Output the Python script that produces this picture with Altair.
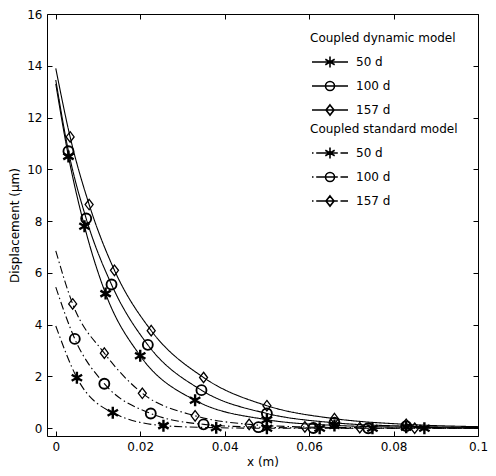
import altair as alt
import pandas as pd

days = ["50 d", "100 d", "157 d"]
models = ["Coupled dynamic model", "Coupled standard model"]

# Coupled dynamic model (x in m, displacement in µm); first/last points are curve ends
dyn50_x = [0, 0.003, 0.0068, 0.0118, 0.0200, 0.0330, 0.0500, 0.0660, 0.0830, 0.1]
dyn50_y = [13.3, 10.5, 7.8, 5.2, 2.8, 1.08, 0.33, 0.11, 0.04, 0.01]
dyn100_x = [0, 0.003, 0.0072, 0.0132, 0.0218, 0.0345, 0.0500, 0.0660, 0.0830, 0.1]
dyn100_y = [13.45, 10.7, 8.1, 5.55, 3.22, 1.47, 0.57, 0.21, 0.08, 0.03]
dyn157_x = [0, 0.0034, 0.0079, 0.0139, 0.0226, 0.0350, 0.0500, 0.0660, 0.0830, 0.1]
dyn157_y = [13.9, 11.25, 8.64, 6.1, 3.77, 1.96, 0.87, 0.37, 0.15, 0.06]

# Coupled standard model
std50_x = [0, 0.005, 0.0135, 0.0255, 0.0380, 0.0500, 0.0625, 0.0750, 0.0873, 0.1]
std50_y = [3.95, 1.95, 0.6, 0.1, 0.02, 0.0, 0.0, 0.0, 0.0, 0.0]
std100_x = [0, 0.0045, 0.0115, 0.0225, 0.0350, 0.0480, 0.0610, 0.0740, 0.1]
std100_y = [5.45, 3.45, 1.72, 0.57, 0.15, 0.04, 0.01, 0.0, 0.0]
std157_x = [0, 0.0040, 0.0115, 0.0205, 0.0330, 0.0458, 0.0590, 0.0720, 0.0850, 0.1]
std157_y = [6.85, 4.8, 2.9, 1.35, 0.48, 0.15, 0.05, 0.02, 0.0, 0.0]

x_ticks = [0, 0.02, 0.04, 0.06, 0.08, 0.1]
y_ticks = [0, 2, 4, 6, 8, 10, 12, 14, 16]

series = [
    (models[0], "50 d", dyn50_x, dyn50_y),
    (models[0], "100 d", dyn100_x, dyn100_y),
    (models[0], "157 d", dyn157_x, dyn157_y),
    (models[1], "50 d", std50_x, std50_y),
    (models[1], "100 d", std100_x, std100_y),
    (models[1], "157 d", std157_x, std157_y),
]
rows = []
for model, day, xs, ys in series:
    n = len(xs)
    for i, (xv, yv) in enumerate(zip(xs, ys)):
        rows.append(dict(model=model, day=day, series=model + " " + day,
                         x=xv, y=yv, marker=bool(0 < i < n - 1), order=i))
df = pd.DataFrame(rows)

W, H = 431, 422
FONT = "DejaVu Sans"
xscale = alt.Scale(domain=[-0.00208, 0.1], nice=False, zero=False)
yscale = alt.Scale(domain=[-0.3, 16], nice=False, zero=False)

main_x = alt.Axis(values=x_ticks, format="~g", ticks=False, domain=False, grid=False,
                  labelPadding=5, labelFlush=False, labelOverlap=False, labelBound=False,
                  title="x (m)", titlePadding=4)
main_y = alt.Axis(values=y_ticks, ticks=False, domain=False, grid=False,
                  labelPadding=5, labelFlush=False, labelOverlap=False,
                  title="Displacement (µm)", titlePadding=5)

lines = alt.Chart(df).mark_line(interpolate="monotone", color="black", strokeWidth=1.1).encode(
    x=alt.X("x:Q", scale=xscale, axis=main_x),
    y=alt.Y("y:Q", scale=yscale, axis=main_y),
    detail="series:N",
    order="order:Q",
    strokeDash=alt.StrokeDash("model:N", scale=alt.Scale(domain=models, range=[[1, 0], [8, 3, 1.5, 3]]), legend=None),
)

STAR = "M0,-1.2L0,1.2M-1.04,-0.6L1.04,0.6M-1.04,0.6L1.04,-0.6"
CIRC = "M1,0A1,1,0,1,1,-1,0A1,1,0,1,1,1,0Z"
DIAM = "M0,-1.05L0.8,0L0,1.05L-0.8,0Z"

points = alt.Chart(df).transform_filter("datum.marker").mark_point(
    filled=False, color="black", size=100, opacity=1).encode(
    x=alt.X("x:Q", scale=xscale, axis=None),
    y=alt.Y("y:Q", scale=yscale, axis=None),
    shape=alt.Shape("day:N", scale=alt.Scale(domain=days, range=[STAR, CIRC, DIAM]), legend=None),
    strokeWidth=alt.StrokeWidth("day:N", scale=alt.Scale(domain=days, range=[2.4, 1.3, 1.1]), legend=None),
)

SOLID = "M-3,0L3,0"
DASHDOT = "M-3,0L-2.75,0M-2.3,0L1.3,0M1.75,0L3,0"
LSTAR = "M0,-0.9L0,0.9M-0.78,-0.45L0.78,0.45M-0.78,0.45L0.78,-0.45"
LCIRC = "M0.75,0A0.75,0.75,0,1,1,-0.75,0A0.75,0.75,0,1,1,0.75,0Z"
LDIAM = "M0,-0.85L0.67,0L0,0.85L-0.67,0Z"


def legend_layer(title, base, ly):
    return alt.Chart(df).transform_filter("false").mark_point(filled=False, color="black", opacity=1).encode(
        x=alt.X("x:Q", scale=xscale, axis=None),
        y=alt.Y("y:Q", scale=yscale, axis=None),
        shape=alt.Shape("day:N", title=title,
                        scale=alt.Scale(domain=days, range=[base + LSTAR, base + LCIRC, base + LDIAM]),
                        legend=alt.Legend(orient="none", legendX=263, legendY=ly, padding=0,
                                          titleFontSize=12, titleFontWeight="normal", titleFont=FONT,
                                          titleColor="black", titlePadding=10,
                                          labelFontSize=12, labelFont=FONT, labelColor="black",
                                          symbolSize=144, symbolStrokeWidth=1.6, symbolStrokeColor="black",
                                          symbolFillColor="transparent", symbolOpacity=1,
                                          symbolOffset=13, labelOffset=19,
                                          rowPadding=7)),
    )


leg_dyn = legend_layer(models[0], SOLID, 19)
leg_std = legend_layer(models[1], DASHDOT, 110)

tick_in_a = alt.Chart(df).transform_filter("false").mark_point().encode(
    x=alt.X("x:Q", scale=xscale, axis=alt.Axis(orient="top", offset=-H, values=x_ticks, labels=False,
                                                domain=False, grid=False, ticks=True, tickSize=5,
                                                tickColor="black", title=None)),
    y=alt.Y("y:Q", scale=yscale, axis=alt.Axis(orient="right", offset=-W, values=y_ticks, labels=False,
                                                domain=False, grid=False, ticks=True, tickSize=5,
                                                tickColor="black", title=None)),
)
tick_in_b = alt.Chart(df).transform_filter("false").mark_point().encode(
    x=alt.X("x:Q", scale=xscale, axis=alt.Axis(orient="bottom", offset=-H, values=x_ticks, labels=False,
                                                domain=False, grid=False, ticks=True, tickSize=5,
                                                tickColor="black", title=None)),
    y=alt.Y("y:Q", scale=yscale, axis=alt.Axis(orient="left", offset=-W, values=y_ticks, labels=False,
                                                domain=False, grid=False, ticks=True, tickSize=5,
                                                tickColor="black", title=None)),
)

chart = alt.layer(lines, points, leg_dyn, leg_std, tick_in_a, tick_in_b).resolve_scale(
    shape="independent"
).resolve_axis(
    x="independent", y="independent"
).properties(
    width=W, height=H,
    autosize=alt.AutoSizeParams(type="none"),
    padding={"left": 39, "top": 6, "right": 10, "bottom": 32},
).configure_view(
    stroke="black", strokeWidth=1
).configure_axis(
    labelFont=FONT, labelFontSize=12, labelColor="black",
    titleFont=FONT, titleFontSize=12, titleFontWeight="normal", titleColor="black",
    tickWidth=1,
)

chart.save("out.html", embed_options={"renderer": "svg", "actions": False})
